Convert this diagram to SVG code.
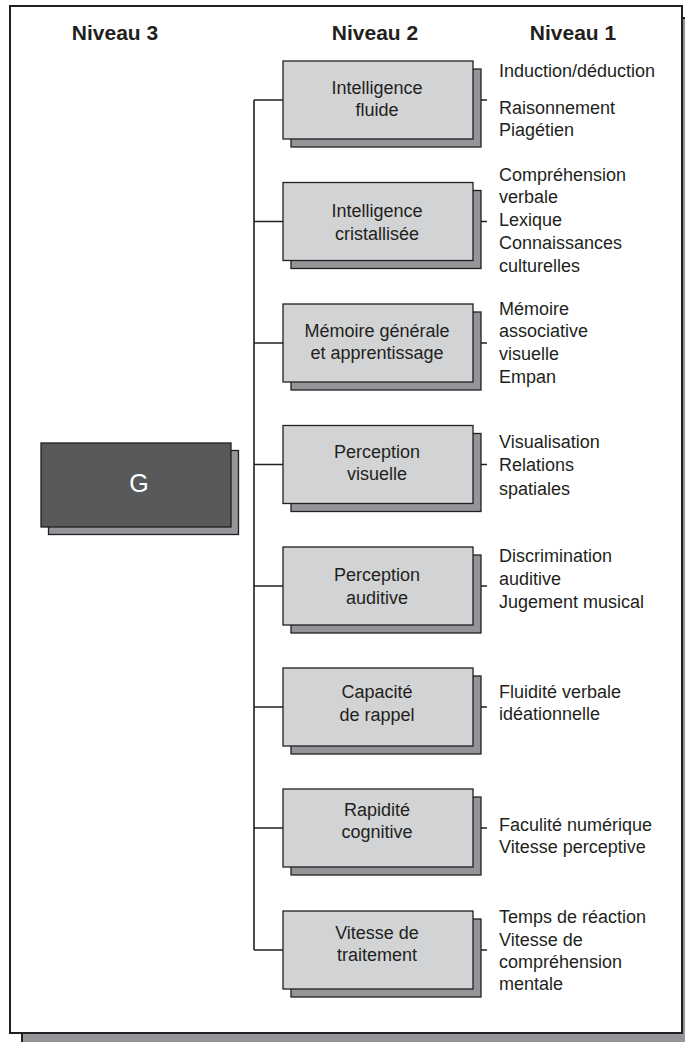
<svg xmlns="http://www.w3.org/2000/svg" width="685" height="1042" viewBox="0 0 685 1042">
<style>
.frame{fill:#fff;stroke:#231f20;stroke-width:2}
.fshadow{fill:#939598;stroke:#231f20;stroke-width:2}
.box{fill:#d1d3d4;stroke:#231f20;stroke-width:1.3}
.sh{fill:#939598;stroke:#231f20;stroke-width:1.3}
.gbox{fill:#58595b;stroke:#231f20;stroke-width:1.3}
.title{font-family:"Liberation Sans",Arial,sans-serif;font-weight:bold;font-size:21px;fill:#231f20;text-anchor:middle}
.lbl{font-family:"Liberation Sans",Arial,sans-serif;font-size:18px;fill:#231f20;text-anchor:middle}
.l1{font-family:"Liberation Sans",Arial,sans-serif;font-size:18px;fill:#231f20}
.g{font-family:"Liberation Sans",Arial,sans-serif;font-size:25px;fill:#fff;text-anchor:middle}
.con{fill:none;stroke:#231f20;stroke-width:1.6}
</style>
<rect class="fshadow" x="22" y="18" width="672" height="1027"/>
<rect class="frame" x="10" y="6" width="672" height="1027"/>
<text class="title" x="115" y="40">Niveau 3</text>
<text class="title" x="375" y="40">Niveau 2</text>
<text class="title" x="573" y="40">Niveau 1</text>
<g id="connectors">
<path class="con" d="M254 100V950"/>
<path class="con" d="M254 100H283M254 221.5H283M254 343H283M254 464.5H283M254 586H283M254 707H283M254 828H283M254 950H283"/>
<path class="con" d="M481 100H487M481 221.5H487M481 343H487M481 464.5H487M481 586H487M481 707H487M481 828H487M481 950H487"/>
</g>
<g id="G">
<rect class="sh" x="48.5" y="450.5" width="190" height="84"/>
<rect class="gbox" x="41" y="443" width="190" height="84"/>
<text class="g" x="139" y="492">G</text>
</g>
<g id="n1">
<rect class="sh" x="291" y="69" width="190" height="78"/>
<rect class="box" x="283" y="61" width="190" height="78"/>
<text class="lbl" x="377" y="94">Intelligence</text>
<text class="lbl" x="377" y="116">fluide</text>
<text class="l1" x="499" y="77">Induction/déduction</text>
<text class="l1" x="499" y="114">Raisonnement</text>
<text class="l1" x="499" y="136">Piagétien</text>
</g>
<g id="n2">
<rect class="sh" x="291" y="190.5" width="190" height="78"/>
<rect class="box" x="283" y="182.5" width="190" height="78"/>
<text class="lbl" x="377" y="217">Intelligence</text>
<text class="lbl" x="377" y="240">cristallisée</text>
<text class="l1" x="499" y="181">Compréhension</text>
<text class="l1" x="499" y="203">verbale</text>
<text class="l1" x="499" y="226">Lexique</text>
<text class="l1" x="499" y="249">Connaissances</text>
<text class="l1" x="499" y="272">culturelles</text>
</g>
<g id="n3">
<rect class="sh" x="291" y="312" width="190" height="78"/>
<rect class="box" x="283" y="304" width="190" height="78"/>
<text class="lbl" x="377" y="337">Mémoire générale</text>
<text class="lbl" x="377" y="359">et apprentissage</text>
<text class="l1" x="499" y="315">Mémoire</text>
<text class="l1" x="499" y="337">associative</text>
<text class="l1" x="499" y="360">visuelle</text>
<text class="l1" x="499" y="383">Empan</text>
</g>
<g id="n4">
<rect class="sh" x="291" y="433.5" width="190" height="78"/>
<rect class="box" x="283" y="425.5" width="190" height="78"/>
<text class="lbl" x="377" y="458">Perception</text>
<text class="lbl" x="377" y="480">visuelle</text>
<text class="l1" x="499" y="448">Visualisation</text>
<text class="l1" x="499" y="471">Relations</text>
<text class="l1" x="499" y="495">spatiales</text>
</g>
<g id="n5">
<rect class="sh" x="291" y="555" width="190" height="78"/>
<rect class="box" x="283" y="547" width="190" height="78"/>
<text class="lbl" x="377" y="581">Perception</text>
<text class="lbl" x="377" y="604">auditive</text>
<text class="l1" x="499" y="562">Discrimination</text>
<text class="l1" x="499" y="585">auditive</text>
<text class="l1" x="499" y="608">Jugement musical</text>
</g>
<g id="n6">
<rect class="sh" x="291" y="676" width="190" height="78"/>
<rect class="box" x="283" y="668" width="190" height="78"/>
<text class="lbl" x="377" y="698">Capacité</text>
<text class="lbl" x="377" y="721">de rappel</text>
<text class="l1" x="499" y="698">Fluidité verbale</text>
<text class="l1" x="499" y="720">idéationnelle</text>
</g>
<g id="n7">
<rect class="sh" x="291" y="797" width="190" height="78"/>
<rect class="box" x="283" y="789" width="190" height="78"/>
<text class="lbl" x="377" y="816">Rapidité</text>
<text class="lbl" x="377" y="838">cognitive</text>
<text class="l1" x="499" y="831">Faculité numérique</text>
<text class="l1" x="499" y="853">Vitesse perceptive</text>
</g>
<g id="n8">
<rect class="sh" x="291" y="919" width="190" height="78"/>
<rect class="box" x="283" y="911" width="190" height="78"/>
<text class="lbl" x="377" y="939">Vitesse de</text>
<text class="lbl" x="377" y="961">traitement</text>
<text class="l1" x="499" y="923">Temps de réaction</text>
<text class="l1" x="499" y="946">Vitesse de</text>
<text class="l1" x="499" y="968">compréhension</text>
<text class="l1" x="499" y="990">mentale</text>
</g>
</svg>
